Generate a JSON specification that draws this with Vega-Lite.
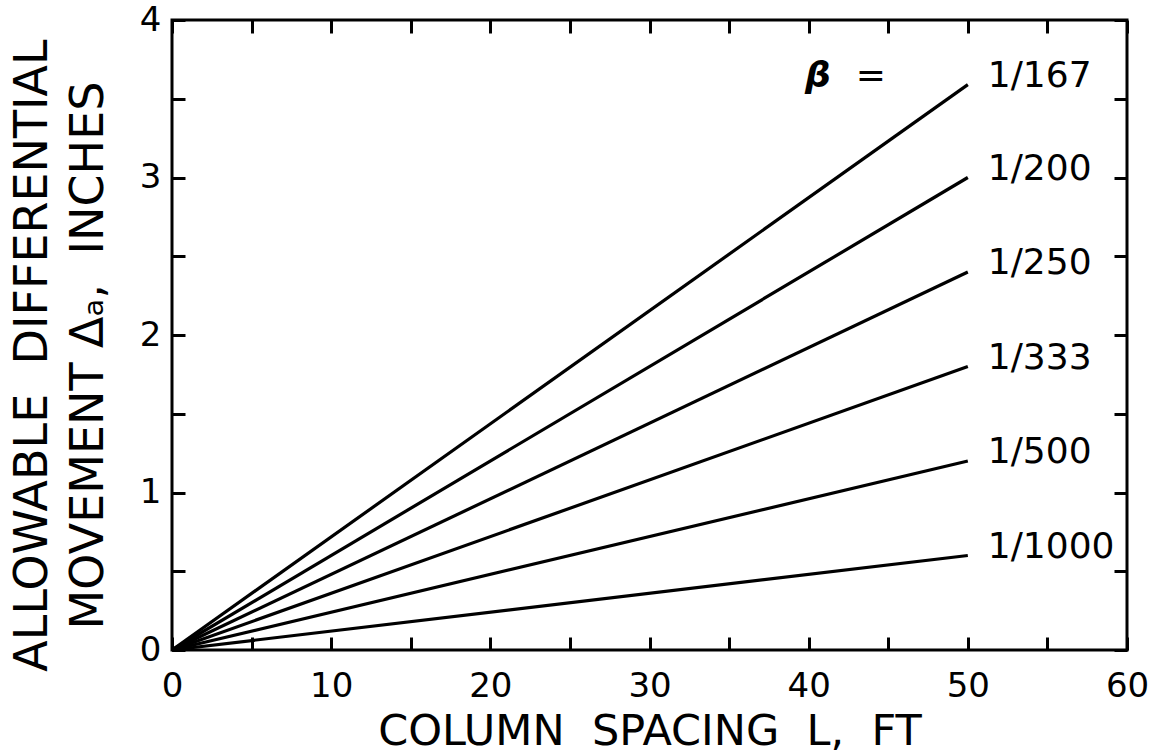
{
  "$schema": "https://vega.github.io/schema/vega-lite/v6.json",
  "width": 955,
  "height": 630,
  "autosize": {"type": "none"},
  "padding": {"left": 172, "top": 20, "right": 27, "bottom": 104},
  "background": "white",
  "config": {
    "view": {"stroke": "black", "strokeWidth": 3},
    "font": "DejaVu Sans",
    "axis": {
      "domain": false,
      "grid": false,
      "labelFont": "DejaVu Sans",
      "labelFontSize": 34,
      "labelColor": "black",
      "labelFlush": false,
      "labelOverlap": false,
      "tickColor": "black",
      "tickWidth": 3,
      "titleFont": "DejaVu Sans",
      "titleFontWeight": "normal",
      "titleColor": "black"
    }
  },
  "data": {
    "values": [
      {"beta": "1/167", "L": 0, "d": 0},
      {"beta": "1/167", "L": 50, "d": 3.59},
      {"beta": "1/200", "L": 0, "d": 0},
      {"beta": "1/200", "L": 50, "d": 3.0},
      {"beta": "1/250", "L": 0, "d": 0},
      {"beta": "1/250", "L": 50, "d": 2.4},
      {"beta": "1/333", "L": 0, "d": 0},
      {"beta": "1/333", "L": 50, "d": 1.8},
      {"beta": "1/500", "L": 0, "d": 0},
      {"beta": "1/500", "L": 50, "d": 1.2},
      {"beta": "1/1000", "L": 0, "d": 0},
      {"beta": "1/1000", "L": 50, "d": 0.6}
    ]
  },
  "resolve": {"axis": {"x": "independent", "y": "independent"}},
  "layer": [
    {
      "mark": {"type": "line", "color": "black", "strokeWidth": 3.2},
      "encoding": {
        "x": {
          "field": "L", "type": "quantitative",
          "scale": {"domain": [0, 60], "nice": false, "zero": true},
          "axis": {
            "orient": "bottom",
            "values": [0, 5, 10, 15, 20, 25, 30, 35, 40, 45, 50, 55, 60],
            "labelExpr": "datum.value % 10 === 0 ? format(datum.value, 'd') : ''",
            "tickSize": -13,
            "labelPadding": 32,
            "title": "COLUMN\u00a0\u00a0SPACING\u00a0\u00a0L,\u00a0\u00a0FT",
            "titleFontSize": 43,
            "titleY": 94,
            "titleBaseline": "alphabetic"
          }
        },
        "y": {
          "field": "d", "type": "quantitative",
          "scale": {"domain": [0, 4], "nice": false},
          "axis": {
            "orient": "left",
            "values": [0, 0.5, 1, 1.5, 2, 2.5, 3, 3.5, 4],
            "labelExpr": "datum.value % 1 === 0 ? format(datum.value, 'd') : ''",
            "tickSize": -13,
            "labelPadding": 24,
            "title": ["ALLOWABLE\u00a0\u00a0DIFFERENTIAL", "MOVEMENT\u00a0Δₐ,\u00a0\u00a0INCHES\u00a0\u00a0"],
            "titleFontSize": 46,
            "titleLineHeight": 56,
            "titleAngle": -90,
            "titleX": -126,
            "titleY": 335,
            "titleBaseline": "alphabetic",
            "titleAlign": "center"
          }
        },
        "detail": {"field": "beta"}
      }
    },
    {
      "transform": [{"filter": "datum.L === 50"}],
      "mark": {"type": "text", "align": "left", "baseline": "middle", "dx": 20, "dy": -9, "fontSize": 36, "font": "DejaVu Sans", "color": "black"},
      "encoding": {
        "x": {
          "field": "L", "type": "quantitative",
          "axis": {
            "orient": "top",
            "values": [0, 5, 10, 15, 20, 25, 30, 35, 40, 45, 50, 55, 60],
            "labels": false,
            "tickSize": -13,
            "title": null
          }
        },
        "y": {
          "field": "d", "type": "quantitative",
          "axis": {
            "orient": "right",
            "values": [0, 0.5, 1, 1.5, 2, 2.5, 3, 3.5, 4],
            "labels": false,
            "tickSize": -13,
            "title": null
          }
        },
        "text": {"field": "beta"}
      }
    },
    {
      "transform": [{"filter": "datum.beta === '1/167' && datum.L === 50"}],
      "mark": {"type": "text", "align": "center", "baseline": "middle", "dx": -150, "dy": -9, "fontSize": 36, "font": "DejaVu Sans", "fontWeight": "bold", "fontStyle": "italic", "color": "black", "text": "β"},
      "encoding": {
        "x": {"field": "L", "type": "quantitative", "axis": null},
        "y": {"field": "d", "type": "quantitative", "axis": null}
      }
    },
    {
      "transform": [{"filter": "datum.beta === '1/167' && datum.L === 50"}],
      "mark": {"type": "text", "align": "center", "baseline": "middle", "dx": -97, "dy": -9, "fontSize": 36, "font": "DejaVu Sans", "color": "black", "text": "="},
      "encoding": {
        "x": {"field": "L", "type": "quantitative", "axis": null},
        "y": {"field": "d", "type": "quantitative", "axis": null}
      }
    }
  ]
}
